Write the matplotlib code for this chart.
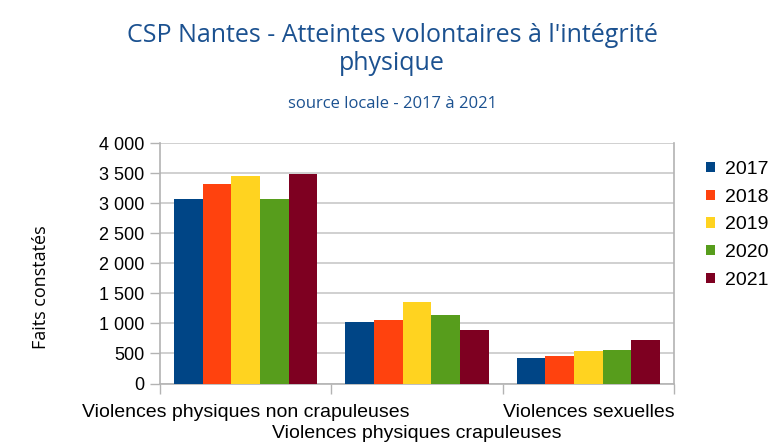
import matplotlib
matplotlib.use("Agg")
import matplotlib.pyplot as plt
import matplotlib.transforms as mtransforms
import numpy as np

categories = ["Violences physiques non crapuleuses",
              "Violences physiques crapuleuses",
              "Violences sexuelles"]
years = ["2017", "2018", "2019", "2020", "2021"]
values = {
    "2017": [3067, 1017, 417],
    "2018": [3317, 1050, 450],
    "2019": [3450, 1350, 533],
    "2020": [3067, 1133, 550],
    "2021": [3488, 883, 717],
}
yticks = [0, 500, 1000, 1500, 2000, 2500, 3000, 3500, 4000]
ytick_labels = ["0", "500", "1 000", "1 500", "2 000", "2 500", "3 000", "3 500", "4 000"]
colors = ["#004586", "#ff420e", "#ffd320", "#579d1c", "#7e0021"]

W, H = 781, 446
fig = plt.figure(figsize=(W / 100, H / 100), dpi=100)
ax = fig.add_axes([160 / W, 1 - 383.5 / H, (674 - 160) / W, (383.5 - 143) / H])

x = np.arange(len(categories))
bw = 0.167
for i, (yr, c) in enumerate(zip(years, colors)):
    ax.bar(x + (i - 2) * bw, values[yr], width=bw, color=c, label=yr, zorder=3)

ax.set_xlim(-0.5, 2.5)
ax.set_ylim(0, 4000)
ax.set_yticks(yticks)
ax.set_yticklabels(ytick_labels, fontfamily="Liberation Sans", fontsize=13)
ax.yaxis.grid(True, color="#c8c8c8", linewidth=1.2, zorder=0)

ax.set_xticks(x)
ax.set_xticklabels([categories[0], "", categories[2]],
                   fontfamily="Liberation Sans", fontsize=14)
ax.tick_params(axis="x", which="major", length=0, pad=15)
ax.set_xticks([-0.5, 0.5, 1.5, 2.5], minor=True)
ax.tick_params(axis="x", which="minor", length=7, color="#b3b3b3", width=1)
ax.tick_params(axis="y", length=7, color="#b3b3b3", width=1, pad=4)
# second category label sits on a lower row (staggered)
tr = mtransforms.blended_transform_factory(ax.transData, fig.transFigure)
ax.text(x[1], 1 - 433 / H, categories[1], transform=tr,
        ha="center", va="center", fontfamily="Liberation Sans", fontsize=14)

for s in ["left", "bottom", "right"]:
    ax.spines[s].set_color("#b3b3b3")
    ax.spines[s].set_linewidth(1.2)
ax.spines["top"].set_visible(False)

fig.text(41 / W, 1 - 287 / H, "Faits constatés", rotation=90, ha="center", va="center",
         fontfamily="Open Sans", fontsize=13)

title_color = "#1b5190"
fig.text(392 / W, 1 - 36 / H, "CSP Nantes - Atteintes volontaires à l'intégrité",
         ha="center", va="center", fontfamily="Open Sans", fontsize=18, color=title_color)
fig.text(392 / W, 1 - 63 / H, "physique",
         ha="center", va="center", fontfamily="Open Sans", fontsize=18, color=title_color)
fig.text(392 / W, 1 - 104 / H, "source locale - 2017 à 2021", ha="center", va="center",
         fontfamily="Open Sans", fontsize=12, color=title_color)

leg = fig.legend(loc="upper left", bbox_to_anchor=(706 / W, 1 - 161 / H), frameon=False,
                 prop={"family": "Liberation Sans", "size": 14},
                 handlelength=0.45, handleheight=0.45, handletextpad=0.55,
                 labelspacing=0.55, borderpad=0, borderaxespad=0)

fig.savefig("out.png", dpi=100)
